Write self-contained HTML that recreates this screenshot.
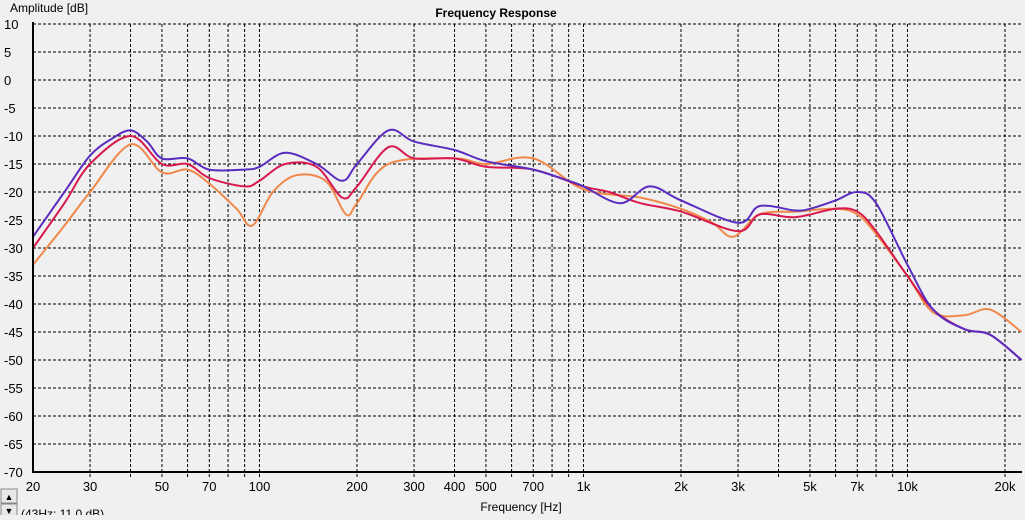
<!DOCTYPE html>
<html><head><meta charset="utf-8"><style>
body{margin:0;background:#f0f0f0;font-family:"Liberation Sans",sans-serif;}
svg text{font-family:"Liberation Sans",sans-serif;}
</style></head><body>
<svg id="chart" width="1025" height="515" viewBox="0 0 1025 515" xmlns="http://www.w3.org/2000/svg">
<rect width="1025" height="515" fill="#f0f0f0"/>
<text x="496" y="17" text-anchor="middle" font-size="12" font-weight="bold">Frequency Response</text>
<text x="10" y="12" font-size="12">Amplitude [dB]</text>
<text x="521" y="511" text-anchor="middle" font-size="12">Frequency [Hz]</text>
<g id="grid"></g><g id="ticks"></g><g id="series"></g>
<line x1="33" y1="22" x2="33" y2="473" stroke="#000" stroke-width="2"/>
<line x1="32" y1="472" x2="1022" y2="472" stroke="#000" stroke-width="2"/>
<g><rect x="1" y="489" width="16" height="14" fill="#e8e8e8" stroke="#888"/><text x="9" y="500" text-anchor="middle" font-size="9">▲</text></g>
<g><rect x="1" y="504" width="16" height="14" fill="#e8e8e8" stroke="#888"/><text x="9" y="514" text-anchor="middle" font-size="9">▼</text></g>
<text x="21" y="518" font-size="12">(43Hz; 11.0 dB)</text>
</svg>
<script>
const yTicks=[10,5,0,-5,-10,-15,-20,-25,-30,-35,-40,-45,-50,-55,-60,-65,-70];
const xLabels=[20,30,50,70,100,200,300,400,500,700,1000,2000,3000,5000,7000,10000,20000];
const xLabelText=["20","30","50","70","100","200","300","400","500","700","1k","2k","3k","5k","7k","10k","20k"];
const gridFreqs=[30,40,50,60,70,80,90,100,200,300,400,500,600,700,800,900,1000,2000,3000,4000,5000,6000,7000,8000,9000,10000,20000];
const blueF=[20,25,30,35,40,45,50,60,70,90,100,120,150,180,200,250,300,400,500,700,900,1000,1300,1600,2000,3000,3500,4500,5000,6000,7000,8000,10000,12000,15000,18000,22500];
const blueV=[-28,-20,-13.5,-10.5,-9,-11,-14,-14,-16,-16,-15.5,-13,-15,-18,-15,-9,-11,-12.5,-14.5,-16,-18,-19,-22,-19,-21.5,-25.5,-22.5,-23.3,-23,-21.5,-20,-22,-33,-41,-44.5,-45.5,-50];
const redF=[20,25,30,40,50,60,70,90,100,120,150,180,200,250,300,400,500,700,1000,1200,1500,2000,3000,3500,4500,6000,7000,8000,10000,12000,15000,18000,22500];
const redV=[-30,-22,-15,-10,-15,-15,-17.5,-19,-18,-15,-15.5,-21,-19,-12,-14,-14,-15.5,-16,-19,-20,-22,-23.5,-27,-24,-24.5,-23,-23.5,-27,-35,-41,-44.5,-45.5,-50];
const orangeF=[20,25,30,40,50,60,70,85,95,110,130,160,185,200,250,400,500,700,1000,1500,2000,2500,2900,3500,4500,6000,7000,8000,10000,12000,15000,18000,22500];
const orangeV=[-33,-26,-20,-11.5,-16.5,-16,-18.5,-23,-26,-20,-17,-18,-24,-22,-15,-14,-15,-14,-19.5,-21,-23,-25.5,-28,-24,-23.5,-23,-24,-27.5,-35,-41.5,-42,-41,-45];
const NS="http://www.w3.org/2000/svg";
const X=f=>33+Math.log10(f/20)*324;
const Y=d=>24+(10-d)*5.6;
function mk(t,a,p){const e=document.createElementNS(NS,t);for(const k in a)e.setAttribute(k,a[k]);p.appendChild(e);return e;}
const grid=document.getElementById('grid'),ticks=document.getElementById('ticks'),series=document.getElementById('series');
yTicks.forEach(v=>{
 if(v>-70){const l=mk('line',{x1:33,x2:1022,y1:Y(v),y2:Y(v),stroke:'#000','stroke-dasharray':'3,2','stroke-width':1},grid);
 
 }
 const t=mk('text',{x:4,y:Y(v)+5,'font-size':13},ticks);t.textContent=v;
 
 
});
gridFreqs.forEach(f=>{
 const l=mk('line',{x1:X(f),x2:X(f),y1:24,y2:477,stroke:'#000','stroke-dasharray':'3,2','stroke-width':1},grid);
 
 
});
xLabels.forEach((f,i)=>{
 const t=mk('text',{x:X(f),y:491,'font-size':13,'text-anchor':'middle'},ticks);t.textContent=xLabelText[i];
 
 
});
function path(F,V){
 const p=F.map((f,i)=>[X(f),Y(V[i])]);let d='M'+p[0][0]+','+p[0][1];
 for(let i=0;i<p.length-1;i++){const a=p[i-1]||p[i],b=p[i],c=p[i+1],e=p[i+2]||c;
  d+=' C'+(b[0]+(c[0]-a[0])/6)+','+(b[1]+(c[1]-a[1])/6)+' '+(c[0]-(e[0]-b[0])/6)+','+(c[1]-(e[1]-b[1])/6)+' '+c[0]+','+c[1];}
 return d;}
[[orangeF,orangeV,'#f0884a','orange-series'],[redF,redV,'#d8194f','red-series'],[blueF,blueV,'#5a2cc0','blue-series']].forEach(s=>{
 const e=mk('path',{d:path(s[0],s[1]),fill:'none',stroke:s[2],'stroke-width':2},series);
 
 
});
</script>
</body></html>
